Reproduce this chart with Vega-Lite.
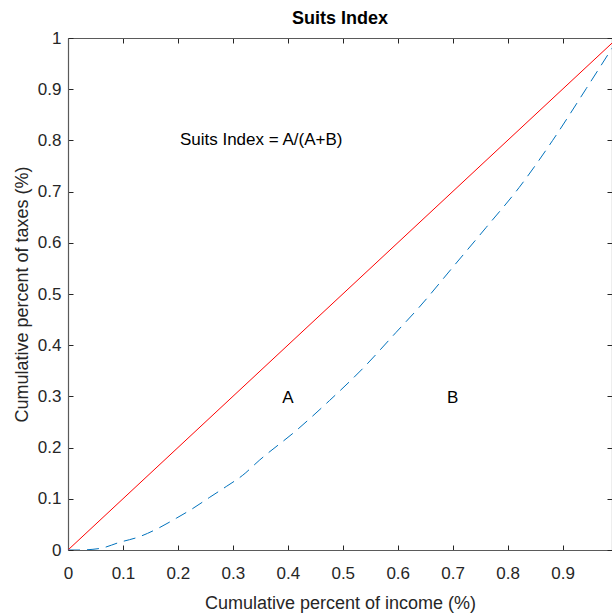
{
  "$schema": "https://vega.github.io/schema/vega-lite/v6.json",
  "width": 544,
  "height": 512,
  "autosize": {"type": "none"},
  "padding": {"left": 68, "top": 38, "right": 0, "bottom": 64},
  "background": "white",
  "title": {
    "text": "Suits Index",
    "font": "Liberation Sans",
    "fontSize": 18,
    "fontWeight": "bold",
    "color": "#000000",
    "anchor": "middle",
    "offset": 1
  },
  "config": {
    "view": {"stroke": null},
    "axis": {
      "labelFont": "Liberation Sans",
      "labelFontSize": 17,
      "labelColor": "#262626",
      "labelFlush": false,
      "titleFont": "Liberation Sans",
      "titleFontSize": 18,
      "titleFontWeight": "normal",
      "titleColor": "#262626",
      "domainColor": "#5a5a5a",
      "domainWidth": 1.2,
      "tickColor": "#262626",
      "tickWidth": 1,
      "tickSize": -5,
      "grid": false
    }
  },
  "datasets": {
    "equality": [
      {"income": 0, "taxes": 0},
      {"income": 0.99, "taxes": 0.99}
    ],
    "curve": [
      {"income": 0, "taxes": 0},
      {"income": 0.02, "taxes": 0},
      {"income": 0.058, "taxes": 0.003},
      {"income": 0.094, "taxes": 0.015},
      {"income": 0.13, "taxes": 0.026},
      {"income": 0.167, "taxes": 0.044},
      {"income": 0.197, "taxes": 0.062},
      {"income": 0.227, "taxes": 0.081},
      {"income": 0.258, "taxes": 0.103},
      {"income": 0.288, "taxes": 0.124},
      {"income": 0.318, "taxes": 0.146},
      {"income": 0.348, "taxes": 0.175},
      {"income": 0.415, "taxes": 0.233},
      {"income": 0.476, "taxes": 0.292},
      {"income": 0.536, "taxes": 0.354},
      {"income": 0.597, "taxes": 0.425},
      {"income": 0.639, "taxes": 0.474},
      {"income": 0.7, "taxes": 0.552},
      {"income": 0.761, "taxes": 0.63},
      {"income": 0.821, "taxes": 0.708},
      {"income": 0.882, "taxes": 0.8},
      {"income": 0.943, "taxes": 0.901},
      {"income": 0.99, "taxes": 0.98}
    ],
    "formula": [
      {"income": 0.2, "taxes": 0.8, "label": "Suits Index = A/(A+B)"}
    ],
    "regions": [
      {"income": 0.4, "taxes": 0.3, "label": "A"},
      {"income": 0.7, "taxes": 0.3, "label": "B"}
    ]
  },
  "layer": [
    {
      "data": {"name": "equality"},
      "mark": {"type": "line", "color": "#ff0000", "strokeWidth": 1, "clip": true},
      "encoding": {
        "x": {
          "field": "income",
          "type": "quantitative",
          "scale": {"domain": [0, 0.99], "nice": false, "zero": false},
          "axis": {
            "orient": "bottom",
            "title": "Cumulative percent of income (%)",
            "values": [0, 0.1, 0.2, 0.3, 0.4, 0.5, 0.6, 0.7, 0.8, 0.9],
            "format": "~g",
            "labelPadding": 20,
            "titlePadding": 13
          }
        },
        "y": {
          "field": "taxes",
          "type": "quantitative",
          "scale": {"domain": [0, 1], "nice": false, "zero": false},
          "axis": {
            "orient": "left",
            "title": "Cumulative percent of taxes (%)",
            "values": [0, 0.1, 0.2, 0.3, 0.4, 0.5, 0.6, 0.7, 0.8, 0.9, 1],
            "format": "~g",
            "labelPadding": 12,
            "titlePadding": 6
          }
        }
      }
    },
    {
      "data": {"name": "curve"},
      "mark": {
        "type": "line",
        "color": "#0072bd",
        "strokeWidth": 1,
        "strokeDash": [12, 7],
        "interpolate": "monotone",
        "clip": true
      },
      "encoding": {
        "x": {
          "field": "income",
          "type": "quantitative",
          "axis": {
            "orient": "top",
            "title": null,
            "labels": false,
            "values": [0, 0.1, 0.2, 0.3, 0.4, 0.5, 0.6, 0.7, 0.8, 0.9]
          }
        },
        "y": {
          "field": "taxes",
          "type": "quantitative",
          "axis": {
            "orient": "right",
            "title": null,
            "labels": false,
            "values": [0, 0.1, 0.2, 0.3, 0.4, 0.5, 0.6, 0.7, 0.8, 0.9, 1]
          }
        }
      }
    },
    {
      "data": {"name": "formula"},
      "mark": {
        "type": "text",
        "font": "Liberation Sans",
        "fontSize": 17,
        "color": "#000000",
        "align": "left",
        "baseline": "middle",
        "dx": 2
      },
      "encoding": {
        "x": {"field": "income", "type": "quantitative", "axis": null},
        "y": {"field": "taxes", "type": "quantitative", "axis": null},
        "text": {"field": "label"}
      }
    },
    {
      "data": {"name": "regions"},
      "mark": {
        "type": "text",
        "font": "Liberation Sans",
        "fontSize": 17,
        "color": "#000000",
        "align": "center",
        "baseline": "middle",
        "dy": 2
      },
      "encoding": {
        "x": {"field": "income", "type": "quantitative", "axis": null},
        "y": {"field": "taxes", "type": "quantitative", "axis": null},
        "text": {"field": "label"}
      }
    }
  ],
  "resolve": {"axis": {"x": "independent", "y": "independent"}}
}
